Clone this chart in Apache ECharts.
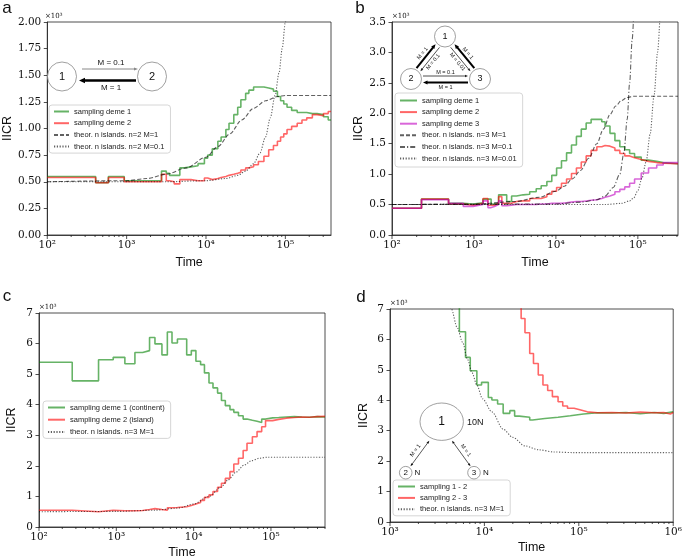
<!DOCTYPE html>
<html lang="en">
<head>
<meta charset="UTF-8">
<title>IICR</title>
<style>
  * { margin: 0; padding: 0; }
  body { background: #fff; }
  #box { width: 685px; height: 560px; }
</style>
<script src="https://cdn.jsdelivr.net/npm/echarts@6/dist/echarts.min.js"></script>
</head>
<body>
<div id="box"></div>
<script>
// ---- panel a : 2 demes ----
var timesA = [100, 407, 589, 933, 2750, 3160, 3470, 3980, 4680, 5370, 6460, 7940, 9550, 10500, 12000, 14100, 15500, 17800, 19500, 22400, 25100, 27500, 31600, 34700, 39800, 45700, 53700, 61700, 70800, 79400, 87100, 95500, 105000, 120000, 141000, 162000, 186000, 219000, 251000, 302000, 347000, 376000];
var greenA = [0.55, 0.49, 0.55, 0.51, 0.60, 0.58, 0.56, 0.56, 0.63, 0.64, 0.65, 0.67, 0.72, 0.75, 0.81, 0.88, 0.92, 0.99, 1.05, 1.13, 1.20, 1.27, 1.33, 1.36, 1.39, 1.39, 1.38, 1.37, 1.35, 1.30, 1.26, 1.23, 1.20, 1.17, 1.15, 1.15, 1.14, 1.14, 1.13, 1.11, 1.08];
var redA = [0.54, 0.49, 0.54, 0.50, 0.57, 0.51, 0.50, 0.48, 0.52, 0.52, 0.51, 0.51, 0.535, 0.52, 0.53, 0.54, 0.55, 0.56, 0.57, 0.58, 0.59, 0.61, 0.63, 0.64, 0.66, 0.69, 0.74, 0.80, 0.84, 0.88, 0.92, 0.95, 0.99, 1.02, 1.05, 1.08, 1.10, 1.13, 1.12, 1.14, 1.16];
var dashTimesA = [100, 1000, 1780, 3160, 5620, 10000, 14100, 20000, 28200, 39800, 56200, 79400, 100000, 376000];
var dashA = [0.50, 0.51, 0.53, 0.57, 0.63, 0.73, 0.83, 0.95, 1.08, 1.19, 1.26, 1.30, 1.31, 1.31];
var dotTimesA = [100, 3160, 10000, 17800, 25100, 31600, 39800, 47900, 56200, 64600, 74100, 83200, 91200, 100000, 110000];
var dotA = [0.50, 0.50, 0.51, 0.53, 0.56, 0.60, 0.67, 0.77, 0.92, 1.10, 1.31, 1.52, 1.75, 2.00, 2.30];

// ---- panel b : 3 demes ----
var timesB = [100, 229, 490, 741, 977, 1290, 1480, 1620, 1780, 2000, 2190, 2510, 2880, 3310, 3980, 4790, 5750, 6610, 7760, 8910, 10200, 11700, 13500, 15500, 17800, 20400, 23400, 26900, 31600, 36300, 39800, 45700, 52500, 60300, 69200, 79400, 91200, 110000, 135000, 170000, 204000, 309000];
var greenB = [0.44, 0.59, 0.52, 0.51, 0.53, 0.59, 0.59, 0.51, 0.51, 0.66, 0.66, 0.55, 0.64, 0.66, 0.67, 0.71, 0.76, 0.81, 0.88, 0.98, 1.10, 1.22, 1.35, 1.48, 1.62, 1.74, 1.84, 1.90, 1.90, 1.86, 1.79, 1.67, 1.55, 1.45, 1.40, 1.34, 1.28, 1.23, 1.21, 1.19, 1.17];
var redB = [0.44, 0.59, 0.51, 0.49, 0.52, 0.60, 0.49, 0.49, 0.52, 0.63, 0.52, 0.52, 0.55, 0.56, 0.56, 0.60, 0.60, 0.63, 0.67, 0.72, 0.78, 0.85, 0.92, 1.01, 1.10, 1.20, 1.30, 1.39, 1.45, 1.47, 1.46, 1.43, 1.39, 1.34, 1.30, 1.27, 1.24, 1.21, 1.19, 1.18, 1.17];
var magentaB = [0.44, 0.58, 0.52, 0.47, 0.50, 0.56, 0.45, 0.47, 0.50, 0.56, 0.48, 0.49, 0.50, 0.50, 0.50, 0.50, 0.51, 0.51, 0.52, 0.52, 0.52, 0.53, 0.54, 0.55, 0.55, 0.56, 0.57, 0.58, 0.60, 0.62, 0.64, 0.67, 0.71, 0.75, 0.79, 0.85, 0.92, 1.02, 1.10, 1.15, 1.19];
var dashTimesB = [100, 1000, 3160, 6310, 10000, 12600, 15800, 20000, 25100, 31600, 38000, 45700, 53700, 63100, 74100, 89100, 309000];
var dashB = [0.50, 0.505, 0.55, 0.62, 0.72, 0.80, 0.92, 1.06, 1.26, 1.50, 1.74, 1.98, 2.12, 2.21, 2.26, 2.28, 2.28];
var dashDotTimesB = [100, 10000, 20000, 31600, 39800, 50100, 60300, 67600, 74100, 79400, 85100, 91200];
var dashDotB = [0.50, 0.51, 0.54, 0.58, 0.64, 0.78, 1.00, 1.35, 1.90, 2.50, 3.20, 4.00];
var dotTimesB = [100, 39800, 63100, 79400, 89100, 100000, 112000, 126000, 141000, 158000, 174000, 186000];
var dotB = [0.50, 0.50, 0.52, 0.56, 0.61, 0.73, 0.93, 1.20, 1.65, 2.30, 3.00, 3.60];

// ---- panel c : continent / island ----
var timesC = [100, 269, 589, 912, 1290, 1740, 2190, 2690, 3160, 3890, 4570, 5250, 6170, 8130, 9330, 10700, 12300, 13800, 15800, 17800, 20400, 22900, 25700, 29500, 33100, 38000, 43700, 49000, 57500, 66100, 75900, 85100, 105000, 126000, 158000, 200000, 251000, 316000, 398000, 500000];
var greenC = [5.39, 4.78, 5.47, 5.55, 5.34, 5.71, 5.77, 6.20, 5.99, 5.63, 6.38, 6.02, 6.15, 5.63, 5.77, 5.42, 5.31, 5.04, 4.71, 4.55, 4.38, 4.14, 3.97, 3.84, 3.75, 3.64, 3.53, 3.49, 3.46, 3.42, 3.53, 3.57, 3.58, 3.60, 3.61, 3.60, 3.59, 3.61, 3.60];
var redC = [0.55, 0.50, 0.55, 0.53, 0.53, 0.54, 0.57, 0.60, 0.57, 0.55, 0.63, 0.64, 0.66, 0.70, 0.75, 0.80, 0.87, 0.97, 1.05, 1.16, 1.30, 1.43, 1.59, 1.81, 2.06, 2.25, 2.50, 2.74, 2.95, 3.12, 3.28, 3.48, 3.52, 3.56, 3.58, 3.60, 3.59, 3.61, 3.62];
var dotTimesC = [100, 1000, 3160, 6310, 10000, 15800, 22400, 28200, 35500, 44700, 56200, 70800, 89100, 500000];
var dotC = [0.50, 0.51, 0.55, 0.62, 0.75, 1.00, 1.30, 1.55, 1.80, 2.02, 2.17, 2.25, 2.28, 2.28];

// ---- panel d : pairs of samples ----
var timesD1 = [3980, 5430, 6310, 7080, 8320, 9330, 11000, 12000, 13800, 15800, 18600, 20900, 23400, 30200, 32400, 43700, 60300, 81300, 112000, 158000, 224000, 316000, 447000, 631000, 794000, 1000000];
var greenD = [9, 6.25, 5.41, 4.97, 4.50, 4.59, 4.09, 4.01, 3.88, 3.57, 3.66, 3.48, 3.44, 3.35, 3.40, 3.44, 3.49, 3.55, 3.59, 3.58, 3.60, 3.56, 3.60, 3.57, 3.62];
var timesD2 = [20000, 24500, 26900, 30200, 33100, 37200, 41700, 46800, 52500, 60300, 67600, 75900, 89100, 105000, 123000, 158000, 224000, 316000, 447000, 631000, 794000, 933000, 1000000];
var redD = [9, 6.69, 6.22, 5.54, 5.21, 4.83, 4.50, 4.32, 4.12, 3.95, 3.81, 3.74, 3.68, 3.62, 3.59, 3.60, 3.58, 3.61, 3.59, 3.60, 3.55, 3.60];
var dotTimesD = [3980, 4470, 5130, 5890, 6610, 7410, 8320, 9550, 12000, 15800, 20000, 26900, 38000, 55000, 89100, 1000000];
var dotD = [7.6, 7.0, 6.4, 5.9, 5.35, 4.9, 4.5, 4.05, 3.62, 3.05, 2.78, 2.5, 2.37, 2.30, 2.28, 2.28];

// axes
var xMin = [100, 100, 100, 1000];
var xMax = [376000, 309000, 500000, 1000000];
var yMax = [2, 3.5, 7, 7];
var yStep = [0.25, 0.5, 1, 1];
var yDigits = [2, 1, 0, 0];
var supDigits = ['⁰', '¹', '²', '³', '⁴', '⁵', '⁶'];

var GREEN = 'rgba(0,128,0,0.6)';
var RED = 'rgba(255,0,0,0.6)';
var MAGENTA = 'rgba(191,0,191,0.6)';
var THEO = 'rgba(0,0,0,0.62)';
var SANS = 'Liberation Sans';
var SERIF = 'DejaVu Serif';

var grids = [
  { left: 45, top: 22, width: 286, height: 213 },
  { left: 392, top: 22, width: 286, height: 213 },
  { left: 39, top: 313, width: 286, height: 214 },
  { left: 390, top: 309, width: 287, height: 213 }
];
var yNameGap = [27, 22, 21, 20];
var xNameGap = [21, 21, 19, 19];

function steps(times, vals) {
  var d = [];
  for (var i = 0; i < times.length; i++) d.push([times[i], vals[Math.min(i, vals.length - 1)]]);
  return d;
}
function pairs(times, vals) {
  return times.map(function (t, i) { return [t, vals[i]]; });
}
function stepLine(name, color, times, vals, idx) {
  return {
    name: name, type: 'line', step: 'end', xAxisIndex: idx, yAxisIndex: idx,
    data: steps(times, vals), symbol: 'none', showSymbol: false,
    lineStyle: { color: color, width: 1.6 }, itemStyle: { color: color }
  };
}
function theoLine(name, dash, times, vals, idx) {
  return {
    name: name, type: 'line', smooth: 0.3, smoothMonotone: 'x', xAxisIndex: idx, yAxisIndex: idx,
    data: pairs(times, vals), symbol: 'none', showSymbol: false,
    lineStyle: { color: THEO, width: 1.1, type: dash }, itemStyle: { color: THEO }
  };
}
// major + minor ticks of the log x axes, drawn outward like matplotlib
function tickSeries(idx) {
  var data = [];
  var e0 = Math.round(Math.log10(xMin[idx]));
  for (var e = e0; e <= 6; e++) {
    for (var m = 1; m <= 9; m++) {
      var t = m * Math.pow(10, e);
      if (t >= xMin[idx] * 0.999 && t <= xMax[idx] * 1.001) data.push([t, m === 1 ? 4 : 2]);
    }
  }
  return {
    type: 'custom', xAxisIndex: idx, yAxisIndex: idx, silent: true, clip: false,
    data: data, encode: { x: 0, y: 1 },
    renderItem: function (params, api) {
      var p = api.coord([api.value(0), 0]);
      var len = api.value(1);
      return { type: 'line', shape: { x1: p[0], y1: p[1], x2: p[0], y2: p[1] + len },
               style: { stroke: '#222', lineWidth: 0.8 } };
    }
  };
}

var xAxes = [], yAxes = [];
for (var i = 0; i < 4; i++) {
  (function (i) {
    xAxes.push({
      type: 'log', logBase: 10, gridIndex: i, min: xMin[i], max: xMax[i],
      name: 'Time', nameLocation: 'middle', nameGap: xNameGap[i],
      nameTextStyle: { fontFamily: SANS, fontSize: 12.5, color: '#111' },
      axisLine: { show: true, onZero: false, lineStyle: { color: '#222', width: 0.8 } },
      axisTick: { show: false }, splitLine: { show: false },
      axisLabel: {
        margin: 5, color: '#111', fontFamily: SERIF, fontSize: 10.5,
        formatter: function (v) {
          var e = Math.log10(v);
          if (Math.abs(e - Math.round(e)) > 1e-6) return '';
          return '10' + supDigits[Math.round(e)];
        }
      }
    });
    yAxes.push({
      type: 'value', gridIndex: i, min: 0, max: yMax[i], interval: yStep[i],
      name: 'IICR', nameLocation: 'middle', nameGap: yNameGap[i],
      nameTextStyle: { fontFamily: SANS, fontSize: 12.5, color: '#111' },
      axisLine: { show: true, lineStyle: { color: '#222', width: 0.8 } },
      axisTick: { show: true, length: 3.5, lineStyle: { color: '#222', width: 0.8 } },
      splitLine: { show: false },
      axisLabel: {
        margin: 6, color: '#111', fontFamily: SERIF, fontSize: 10.5,
        formatter: function (v) { return v.toFixed(yDigits[i]); }
      }
    });
  })(i);
}

var series = [
  stepLine('sampling deme 1#a', GREEN, timesA, greenA, 0),
  stepLine('sampling deme 2#a', RED, timesA, redA, 0),
  theoLine('theor. n islands. n=2 M=1#a', [4, 2], dashTimesA, dashA, 0),
  theoLine('theor. n islands. n=2 M=0.1#a', [1.2, 1.6], dotTimesA, dotA, 0),

  stepLine('sampling deme 1#b', GREEN, timesB, greenB, 1),
  stepLine('sampling deme 2#b', RED, timesB, redB, 1),
  stepLine('sampling deme 3#b', MAGENTA, timesB, magentaB, 1),
  theoLine('theor. n islands. n=3 M=1#b', [4, 2], dashTimesB, dashB, 1),
  theoLine('theor. n islands. n=3 M=0.1#b', [5, 2, 1.2, 2], dashDotTimesB, dashDotB, 1),
  theoLine('theor. n islands. n=3 M=0.01#b', [1.2, 1.6], dotTimesB, dotB, 1),

  stepLine('sampling deme 1 (continent)#c', GREEN, timesC, greenC, 2),
  stepLine('sampling deme 2 (island)#c', RED, timesC, redC, 2),
  theoLine('theor. n islands. n=3 M=1#c', [1.2, 1.6], dotTimesC, dotC, 2),

  stepLine('sampling 1 - 2#d', GREEN, timesD1, greenD, 3),
  stepLine('sampling 2 - 3#d', RED, timesD2, redD, 3),
  theoLine('theor. n islands. n=3 M=1#d', [1.2, 1.6], dotTimesD, dotD, 3),

  tickSeries(0), tickSeries(1), tickSeries(2), tickSeries(3)
];

function legendCfg(names, left, top, width, gap, pad) {
  return {
    data: names, left: left, top: top, orient: 'vertical', selectedMode: false,
    itemWidth: width, itemHeight: 8, itemGap: gap, padding: pad,
    borderColor: '#cccccc', borderWidth: 0.8, borderRadius: 3,
    backgroundColor: 'rgba(255,255,255,0.85)',
    itemStyle: { opacity: 0 },
    textStyle: { fontFamily: SANS, fontSize: 7.5, color: '#222', lineHeight: 9 },
    formatter: function (n) { return n.split('#')[0]; }
  };
}
var legends = [
  legendCfg(['sampling deme 1#a', 'sampling deme 2#a', 'theor. n islands. n=2 M=1#a', 'theor. n islands. n=2 M=0.1#a'], 49, 105, 15, 2.7, [2, 6, 2, 4]),
  legendCfg(['sampling deme 1#b', 'sampling deme 2#b', 'sampling deme 3#b', 'theor. n islands. n=3 M=1#b', 'theor. n islands. n=3 M=0.1#b', 'theor. n islands. n=3 M=0.01#b'], 395, 93, 17, 2.6, [3, 6, 4, 4]),
  legendCfg(['sampling deme 1 (continent)#c', 'sampling deme 2 (island)#c', 'theor. n islands. n=3 M=1#c'], 43, 401, 17, 3.2, [2, 6, 2, 4]),
  legendCfg(['sampling 1 - 2#d', 'sampling 2 - 3#d', 'theor. n islands. n=3 M=1#d'], 393, 480, 17, 2.4, [2, 6, 2, 4])
];

// ---- diagrams ----
function txt(s, x, y, size, align, rot, family) {
  return {
    type: 'text', x: x, y: y, rotation: rot || 0, z: 120,
    style: { text: s, x: 0, y: 0, font: size + 'px "' + (family || SANS) + '"', fill: '#111',
             align: align || 'center', verticalAlign: 'middle',
             textAlign: align || 'center', textVerticalAlign: 'middle' }
  };
}
function circ(x, y, r) {
  return { type: 'circle', z: 110, shape: { cx: x, cy: y, r: r }, style: { fill: '#fff', stroke: '#777', lineWidth: 0.7 } };
}
function arrowHead(x, y, ux, uy, hl, hw, color) {
  var bx = x - ux * hl, by = y - uy * hl;
  return { type: 'polygon', z: 115, shape: { points: [[x, y], [bx - uy * hw / 2, by + ux * hw / 2], [bx + uy * hw / 2, by - ux * hw / 2]] },
           style: { fill: color } };
}
function arrow(x1, y1, x2, y2, w, hl, hw, color, both) {
  var dx = x2 - x1, dy = y2 - y1, L = Math.sqrt(dx * dx + dy * dy), ux = dx / L, uy = dy / L;
  var sx = both ? x1 + ux * hl * 0.8 : x1, sy = both ? y1 + uy * hl * 0.8 : y1;
  var out = [
    { type: 'line', z: 114, shape: { x1: sx, y1: sy, x2: x2 - ux * hl * 0.8, y2: y2 - uy * hl * 0.8 }, style: { stroke: color, lineWidth: w } },
    arrowHead(x2, y2, ux, uy, hl, hw, color)
  ];
  if (both) out.push(arrowHead(x1, y1, -ux, -uy, hl, hw, color));
  return out;
}
// arrow between two circle centres, shifted sideways by off
function link(ca, cb, off, gap, w, hl, hw, color, reverse) {
  var dx = cb[0] - ca[0], dy = cb[1] - ca[1], L = Math.sqrt(dx * dx + dy * dy);
  var ux = dx / L, uy = dy / L, px = -uy, py = ux;
  var s = [ca[0] + ux * gap + px * off, ca[1] + uy * gap + py * off];
  var e = [cb[0] - ux * gap + px * off, cb[1] - uy * gap + py * off];
  return reverse ? arrow(e[0], e[1], s[0], s[1], w, hl, hw, color) : arrow(s[0], s[1], e[0], e[1], w, hl, hw, color);
}
function linkLabel(ca, cb, off, s, size) {
  var dx = cb[0] - ca[0], dy = cb[1] - ca[1], L = Math.sqrt(dx * dx + dy * dy);
  var ux = dx / L, uy = dy / L, px = -uy, py = ux;
  var mx = (ca[0] + cb[0]) / 2 + px * off, my = (ca[1] + cb[1]) / 2 + py * off;
  var rot = Math.atan2(-uy, ux);
  if (rot > Math.PI / 2) rot -= Math.PI;
  if (rot < -Math.PI / 2) rot += Math.PI;
  return txt(s, mx, my, size, 'center', rot);
}

var g = [];
// panel letters and exponent labels
g.push(txt('a', 7, 8, 17), txt('b', 360, 8, 17), txt('c', 7, 296, 17), txt('d', 361, 297, 17));
g.push(txt('×10³', 45, 16, 7, 'left', 0, SERIF), txt('×10³', 392, 16, 7, 'left', 0, SERIF),
       txt('×10³', 39, 307, 7, 'left', 0, SERIF), txt('×10³', 390, 303, 7, 'left', 0, SERIF));

// a: two demes
g.push(circ(62, 76.5, 14.5), circ(152, 76.5, 14.5), txt('1', 62, 76.5, 11), txt('2', 152, 76.5, 11));
g = g.concat(arrow(82, 69, 138, 69, 1, 4, 3, '#888'));
g = g.concat(arrow(136, 80.5, 79, 80.5, 2.6, 6, 5.5, '#000'));
g.push(txt('M = 0.1', 111, 63, 8), txt('M = 1', 111, 87.5, 8));

// b: triangle of three demes
var C1 = [445, 36.5], C2 = [411, 79], C3 = [480, 79];
g.push(circ(C1[0], C1[1], 10.5), circ(C2[0], C2[1], 10.5), circ(C3[0], C3[1], 10.5));
g.push(txt('1', C1[0], C1[1], 9), txt('2', C2[0], C2[1], 9), txt('3', C3[0], C3[1], 9));
g = g.concat(link(C2, C1, -2.5, 12, 2, 4.5, 4, '#000', false));
g = g.concat(link(C2, C1, 2.5, 12, 0.8, 3, 2.5, '#222', true));
g = g.concat(link(C3, C1, 2.5, 12, 2, 4.5, 4, '#000', false));
g = g.concat(link(C3, C1, -2.5, 12, 0.8, 3, 2.5, '#222', true));
g = g.concat(link(C2, C3, -3, 12, 0.8, 3, 2.5, '#222', false));
g = g.concat(link(C2, C3, 3.5, 12, 2, 4.5, 4, '#000', true));
g.push(linkLabel(C2, C1, -7, 'M = 1', 5.5), linkLabel(C2, C1, 6.5, 'M = 0.1', 5.5));
g.push(linkLabel(C3, C1, 7, 'M = 1', 5.5), linkLabel(C3, C1, -6.5, 'M = 0.01', 5.5));
g.push(txt('M = 0.1', 445.5, 72, 5.5), txt('M = 1', 445.5, 87.5, 5.5));

// d: continent and two islands
g.push({ type: 'ellipse', z: 110, shape: { cx: 441.7, cy: 421.7, rx: 21.7, ry: 18.7 }, style: { fill: '#fff', stroke: '#777', lineWidth: 0.7 } });
g.push(circ(405.7, 472.7, 6.3), circ(474, 472.7, 6.3));
g.push(txt('1', 441.7, 421.7, 12), txt('10N', 467, 422.5, 9, 'left'),
       txt('2', 405.7, 472.7, 8), txt('N', 414.5, 472.7, 8, 'left'),
       txt('3', 474, 472.7, 8), txt('N', 483, 472.7, 8, 'left'));
g = g.concat(arrow(410.5, 466.3, 429.3, 440.7, 0.7, 3, 2.5, '#111', true));
g = g.concat(arrow(452, 440.7, 470.5, 466.3, 0.7, 3, 2.5, '#111', true));
g.push(txt('M = 1', 415.5, 450.5, 5.5, 'center', 0.94), txt('M = 1', 465.8, 450.5, 5.5, 'center', -0.94));

var myChart = echarts.init(document.getElementById('box'), null, { renderer: 'canvas' });
var option = {
  animation: false,
  backgroundColor: '#fff',
  grid: grids.map(function (gr) {
    return { left: gr.left, top: gr.top, width: gr.width, height: gr.height, show: true,
             borderColor: '#222', borderWidth: 0.8, backgroundColor: 'transparent', containLabel: false };
  }),
  xAxis: xAxes,
  yAxis: yAxes,
  legend: legends,
  series: series,
  graphic: { elements: g }
};
myChart.setOption(option);
</script>
</body>
</html>
